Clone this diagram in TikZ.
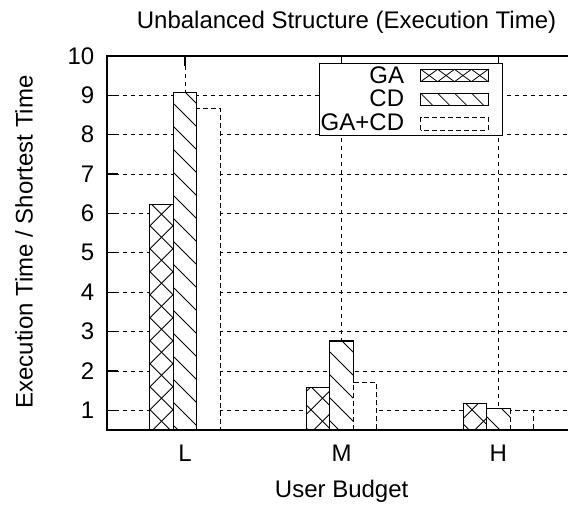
\documentclass[tikz,border=0pt]{standalone}
\usepackage{fontspec}
\setmainfont{Liberation Sans}

% bar helpers: #1 left edge, #2 right edge, #3 top edge (all bars stand on y=74)
\newcommand\crossbar[3]{%
  \fill[white] (#1,74) rectangle (#2,#3);
  \begin{scope}
    \clip (#1,74) rectangle (#2,#3);
    \pgfmathsetmacro\hatchA{14.3+23*floor((#1+74-14.3)/23)}
    \pgfmathsetmacro\hatchB{13.3+23*floor((74-#2-13.3)/23)}
    \foreach \k in {0,...,17}{
      \draw[hatchline] (\hatchA+23*\k-74,74) -- (\hatchA+23*\k-#3,#3);
      \draw[hatchline] (74-\hatchB-23*\k,74) -- (#3-\hatchB-23*\k,#3);
    }
  \end{scope}
  \draw[barline] (#1,74) rectangle (#2,#3);
}
\newcommand\slashbar[3]{%
  \fill[white] (#1,74) rectangle (#2,#3);
  \begin{scope}
    \clip (#1,74) rectangle (#2,#3);
    \pgfmathsetmacro\hatchA{22+23*floor((#1+74-22)/23)}
    \foreach \k in {0,...,17}{
      \draw[hatchline] (\hatchA+23*\k-74,74) -- (\hatchA+23*\k-#3,#3);
    }
  \end{scope}
  \draw[barline] (#1,74) rectangle (#2,#3);
}
\newcommand\combobar[3]{%
  \filldraw[fill=white, comboline] (#1,74) rectangle (#2,#3);
}

\begin{document}
\begin{tikzpicture}[x=1pt,y=1pt,
  frameline/.style={line width=1.4pt},
  gridline/.style={line width=0.8pt, dash pattern=on 4pt off 4pt},
  tickline/.style={line width=1.2pt},
  barline/.style={line width=1.1pt},
  hatchline/.style={line width=0.8pt},
  comboline/.style={line width=0.9pt, dash pattern=on 5pt off 3pt},
  lbl/.style={font=\fontsize{24}{28}\selectfont, inner sep=0pt}]

\path[use as bounding box] (0,0) rectangle (568,504);
\clip (0,0) rectangle (568,504);
\fill[white] (0,0) rectangle (568,504);

% horizontal grid at 1..9 and vertical grid at L, M, H
\foreach \v in {1,...,9}
  \draw[gridline] (107,{74+(\v-0.5)*39.37}) -- (577,{74+(\v-0.5)*39.37});
\foreach \x in {185,341.67,498.33}
  \draw[gridline] (\x,74) -- (\x,448);

% ticks
\foreach \v in {1,...,10}
  \draw[tickline] (107,{74+(\v-0.5)*39.37}) -- (118,{74+(\v-0.5)*39.37});
\foreach \x in {185,341.67,498.33}
  \draw[tickline] (\x,448) -- (\x,438);

% tick labels
\foreach \v in {1,...,10}
  \node[lbl, anchor=east] (ytick\v) at (94.5,{74+(\v-0.5)*39.37}) {\v};
\node[lbl, anchor=base] (xtickL) at (185,42.3) {L};
\node[lbl, anchor=base] (xtickM) at (341.67,42.3) {M};
\node[lbl, anchor=base] (xtickH) at (498.33,42.3) {H};

% bars: L group
\crossbar{149.75}{173.25}{299.6}
\slashbar{173.25}{196.75}{411.8}
\combobar{196.75}{220.25}{395.7}
% M group
\crossbar{306.42}{329.92}{116.5}
\slashbar{329.92}{353.42}{163.0}
\combobar{353.42}{376.92}{121.2}
% H group
\crossbar{463.08}{486.58}{100.8}
\slashbar{486.58}{510.08}{95.7}
\combobar{510.08}{533.58}{93.3}

% plot frame
\draw[frameline] (577,74) -- (107,74) -- (107,448) -- (577,448);

% legend
\filldraw[fill=white, line width=1pt] (319,368.3) rectangle (502.7,440.7);
\node[lbl, anchor=base east] (keyGA) at (404.3,420) {GA};
\node[lbl, anchor=base east] (keyCD) at (404.3,397.3) {CD};
\node[lbl, anchor=base east] (keyGACD) at (404.3,373.6) {GA+CD};
\fill[white] (420.7,422.3) rectangle (488.3,434.7);
\foreach \k in {0,...,3}{
  \draw[hatchline] ({420.7+16.9*\k},422.3) -- ({420.7+16.9*(\k+1)},434.7);
  \draw[hatchline] ({420.7+16.9*\k},434.7) -- ({420.7+16.9*(\k+1)},422.3);
}
\draw[barline] (420.7,422.3) rectangle (488.3,434.7);
\begin{scope}
  \clip (420.7,398.3) rectangle (488.3,410.7);
  \foreach \k in {0,...,3}
    \draw[hatchline] ({420.7+17*\k},410.7) -- ({420.7+17*\k+12.4},398.3);
\end{scope}
\draw[barline] (420.7,398.3) rectangle (488.3,410.7);
\draw[comboline] (420.7,374) rectangle (488.3,386.7);

% titles
\node[lbl, anchor=base] (title) at (346.5,475.5) {Unbalanced Structure (Execution Time)};
\node[lbl, anchor=base] (xlabel) at (341.67,7) {User Budget};
\node[lbl, anchor=base, rotate=90] (ylabel) at (32.5,262) {Execution Time / Shortest Time};
\end{tikzpicture}
\end{document}
